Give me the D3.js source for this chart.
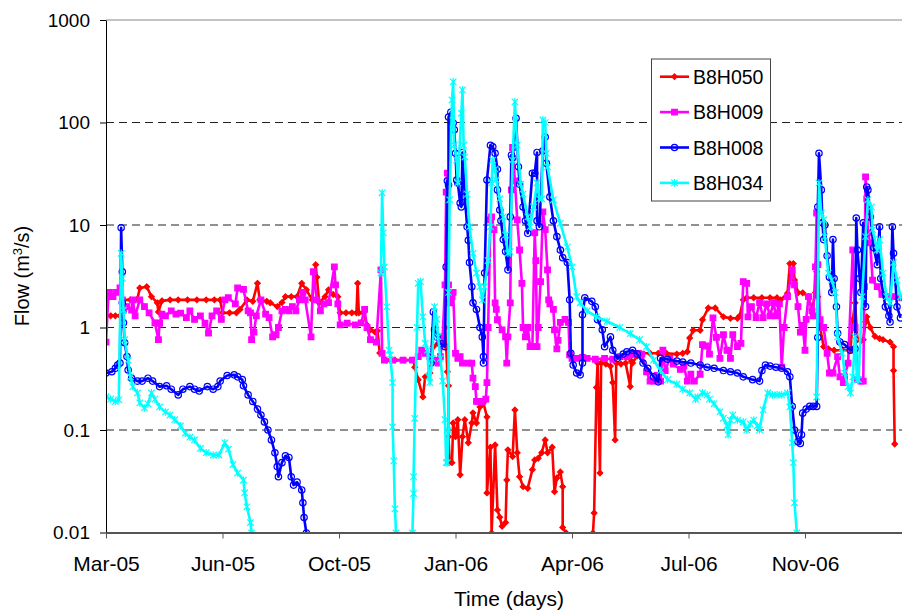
<!DOCTYPE html>
<html>
<head>
<meta charset="utf-8">
<script src="https://cdn.jsdelivr.net/npm/d3@7"></script>
<style>
body { margin: 0; background: #fff; }
text { font-family: Arial, "Liberation Sans", sans-serif; fill: #000; }
</style>
</head>
<body>
<script>
// first day of the record, day offsets below count from here
const startDate = "2005-03-16";

const seriesNames = ["B8H050", "B8H009", "B8H008", "B8H034"];

const yTicks = [0.01, 0.1, 1, 10, 100, 1000];
const yTickLabels = ["0.01", "0.1", "1", "10", "100", "1000"];
const xTickDays = [0, 100, 200, 300, 400, 500, 600];

// [day, flow m3/s]; null = no data
const b8h050 = [
  [0,1.3],[4,1.3],[8,1.3],[12,1.3],[15,1.86],[21,1.86],[27,1.9],[29,2.43],[35,2.5],[39,2.0],
  [44,1.74],[45,1.42],[48,1.82],[55,1.86],[62,1.86],[70,1.86],[78,1.86],[86,1.86],[93,1.86],[98,1.86],
  [100,1.39],[106,1.39],[112,1.39],[115,1.5],[121,1.86],[126,1.8],[130,2.7],[132,1.86],[138,1.8],[141,1.74],
  [147,1.6],[151,1.75],[154,2.0],[159,2.0],[164,2.0],[168,2.7],[172,2.33],[177,1.86],[180,4.1],[181,3.1],
  [183,1.74],[188,2.0],[191,2.33],[195,2.1],[199,2.0],[201,1.39],[206,1.39],[211,1.39],[215,1.39],[216,2.7],
  [217,1.39],[221,1.39],[224,1.06],[227,0.95],[231,0.9],[233,0.93],[235,0.565],[241,0.48],[248,0.48],[256,0.48],
  [264,0.48],[265,0.41],[268,0.31],[272,0.21],[274,0.33],[278,0.36],[281,0.65],[285,0.7],[289,0.76],[291,1.0],
  [292,0.65],[293,0.37],[294,0.27],[294,0.086],[295,0.048],[297,0.048],[298,0.117],[300,0.086],[302,0.126],[304,0.0365],
  [306,0.086],[308,0.126],[311,0.075],[314,0.117],[315,0.147],[318,0.117],[321,0.168],[324,0.184],[327,0.134],[327,0.0243],
  [330,0.068],[331,0.0099],[334,0.0715],[336,0.0166],[338,0.0141],[340,0.0115],[343,0.0125],[344,0.0325],[345,0.064],[349,0.055],
  [351,0.157],[353,0.06],[355,0.035],[358,0.028],[362,0.027],[366,0.041],[368,0.051],[371,0.053],[374,0.06],[377,0.08],
  [379,0.06],[383,0.068],[385,0.025],[387,0.034],[390,0.039],[392,0.028],[392,0.0112],[395,0.0099],[400,null],
  [418,0.0099],[419,0.0155],[421,0.26],[422,0.45],[424,0.038],[425,0.45],[429,0.44],[433,0.42],[435,0.29],[437,0.08],
  [438,0.45],[442,0.44],[446,0.45],[450,0.265],[451,0.47],[452,0.45],[456,0.53],[459,0.56],[467,0.56],[474,0.56],
  [481,0.56],[490,0.55],[495,0.56],[499,0.58],[501,0.79],[504,0.94],[510,0.94],[512,1.19],[517,1.55],[523,1.55],
  [530,1.27],[536,1.23],[542,1.23],[544,1.3],[547,1.86],[550,1.95],[556,1.95],[563,1.95],[570,1.95],[576,1.95],
  [579,1.86],[585,2.16],[587,4.2],[590,4.2],[591,2.9],[594,2.18],[598,2.18],[603,2.0],[606,1.48],[609,2.2],
  [610,3.5],[611,2.0],[613,1.0],[616,0.65],[620,0.62],[625,0.6],[632,0.6],[639,0.6],[641,1.19],[643,1.74],
  [645,0.76],[648,0.74],[650,0.76],[652,1.13],[653,1.27],[656,1.0],[660,0.82],[664,0.78],[667,0.76],[673,0.72],
  [676,0.65],[676,0.38],[677,0.073]
];

const b8h009 = [
  [0,0.72],[2,2.0],[3,2.2],[6,2.0],[9,2.2],[12,2.43],[14,1.86],[15,1.48],[18,1.6],[22,1.48],
  [23,1.86],[25,1.3],[29,1.86],[33,1.6],[37,1.39],[42,1.11],[45,0.76],[46,1.1],[48,1.35],[51,1.3],
  [56,1.45],[60,1.35],[64,1.38],[69,1.25],[72,1.45],[76,1.2],[81,1.3],[85,1.1],[88,0.88],[91,1.3],
  [95,1.45],[99,1.2],[102,1.86],[105,1.95],[111,1.7],[113,2.43],[118,2.35],[122,1.45],[124,1.39],[125,0.76],
  [127,0.9],[129,1.3],[133,1.86],[137,1.35],[140,1.25],[143,0.81],[146,0.85],[148,1.0],[151,1.45],[154,1.5],
  [157,1.45],[160,1.6],[163,1.45],[166,1.86],[169,2.2],[171,1.86],[176,0.81],[178,3.5],[181,1.86],[184,1.45],
  [187,1.7],[191,1.75],[196,3.9],[197,2.6],[199,1.7],[201,1.06],[207,1.1],[214,1.06],[219,1.11],[222,1.5],
  [224,1.0],[227,0.76],[232,0.72],[236,3.65],[237,0.56],[239,0.48],[246,0.48],[255,0.48],[263,0.48],[268,0.52],
  [271,0.6],[274,0.56],[278,0.52],[282,0.48],[285,0.45],[287,0.52],[289,0.81],[291,2.6],[292,20.9],[293,32],
  [294,2.6],[295,1.74],[297,2.0],[298,2.2],[300,0.56],[302,0.5],[304,0.52],[306,0.45],[311,0.45],[314,0.45],
  [315,0.32],[317,0.265],[318,0.19],[320,0.19],[323,0.19],[326,0.2],[327,0.29],[328,1.0],[330,11.2],[331,12],
  [333,9],[334,1.74],[335,1.5],[336,1.19],[340,0.95],[343,0.81],[344,0.45],[345,0.81],[347,1.74],[348,22],
  [349,57],[351,27],[353,11.2],[355,5.7],[357,2.7],[358,1.0],[360,0.81],[362,1.0],[364,0.65],[366,0.65],
  [368,8.4],[369,4.5],[370,0.65],[371,1.0],[373,2.8],[375,13.4],[377,9],[379,3.65],[380,1.86],[381,1.7],
  [384,1.5],[385,0.95],[387,0.62],[388,0.75],[390,1.12],[394,1.2],[397,1.12],[398,0.54],[400,0.5],[404,0.5],
  [409,0.51],[413,0.5],[420,0.49],[428,0.5],[435,0.49],[441,0.52],[447,0.52],[452,0.54],[456,0.56],[460,0.55],
  [464,0.37],[467,0.3],[470,0.3],[473,0.34],[476,0.3],[478,0.6],[480,0.38],[484,0.5],[487,0.44],[493,0.39],
  [496,0.42],[499,0.3],[502,0.35],[505,0.3],[510,0.35],[512,0.68],[515,0.66],[518,0.55],[521,1.24],[524,0.8],
  [527,0.5],[530,0.85],[533,0.6],[536,0.5],[538,0.85],[542,0.65],[545,0.7],[547,2.8],[550,2.7],[551,1.27],
  [554,1.6],[558,1.25],[561,1.75],[564,1.25],[567,1.7],[570,1.3],[573,1.75],[575,1.3],[578,1.7],[580,0.41],
  [582,1.0],[585,2.0],[589,3.65],[591,2.6],[594,1.6],[596,0.9],[598,1.05],[600,0.6],[601,1.2],[603,2.0],
  [606,1.45],[607,1.3],[609,3.9],[610,13.1],[611,4.1],[613,1.19],[616,1.0],[619,0.56],[621,0.36],[624,0.36],
  [628,0.52],[630,0.33],[633,0.29],[634,0.33],[637,0.45],[641,5.7],[643,1.0],[645,0.31],[648,0.3],[650,0.3],
  [651,2.5],[652,29.5],[653,18],[654,8.4],[656,6.7],[658,2.9],[662,2.5],[666,2.1],[670,2.0],[676,2.0],
  [683,1.95]
];

const b8h008 = [
  [0,0.36],[5,0.37],[8,0.4],[10,0.43],[12,0.45],[13,9.4],[14,3.5],[14,1.74],[15,1.11],[16,0.71],
  [18,0.52],[19,0.385],[22,0.32],[27,0.3],[31,0.3],[36,0.32],[40,0.3],[46,0.265],[52,0.27],[56,0.25],
  [62,0.22],[66,0.25],[72,0.265],[76,0.25],[80,0.24],[87,0.265],[92,0.25],[96,0.265],[98,0.3],[104,0.34],
  [110,0.345],[113,0.33],[117,0.31],[118,0.27],[122,0.22],[126,0.19],[130,0.16],[133,0.14],[136,0.12],[139,0.1],
  [142,0.08],[145,0.06],[147,0.044],[148,0.035],[151,0.048],[154,0.056],[157,0.054],[159,0.035],[161,0.029],[164,0.031],
  [168,0.026],[169,0.0195],[170,0.014],[172,0.0099],[175,null],
  [279,0.45],[281,1.42],[282,0.95],[284,0.81],[287,0.7],[291,0.65],[292,3.9],[293,27],[294,24.6],[294,113],
  [296,126],[298,99],[299,85],[300,50],[301,27.5],[302,25.7],[304,16.4],[305,15],[306,51],[308,18.8],
  [310,9.6],[311,7.1],[312,4.3],[314,2.5],[315,1.74],[318,1.5],[321,1.0],[323,0.81],[324,0.52],[324,0.45],
  [325,3.4],[327,27.5],[330,60],[332,58],[334,50],[336,35],[336,22],[338,14],[339,11],[341,7.2],
  [343,5.5],[345,3.65],[347,12],[348,48],[349,45],[352,110],[354,37],[355,25],[358,15],[360,11],
  [362,8.3],[366,32],[368,32],[370,51],[370,11],[372,9.6],[375,53],[377,72],[378,40],[381,18.8],
  [384,11],[387,7.7],[390,5.7],[392,4.8],[396,4.3],[398,1.86],[399,0.56],[401,0.43],[404,0.36],[407,0.345],
  [409,0.45],[409,1.33],[411,1.95],[417,1.8],[420,1.59],[422,1.19],[426,0.95],[428,0.65],[433,0.81],[435,0.6],
  [439,0.5],[444,0.55],[447,0.58],[452,0.6],[456,0.55],[461,0.45],[465,0.4],[470,0.33],[474,0.295],[476,0.5],
  [482,0.49],[490,0.47],[495,0.46],[502,0.45],[510,0.43],[516,0.41],[522,0.4],[530,0.38],[536,0.37],[542,0.36],
  [547,0.33],[555,0.31],[561,0.3],[563,0.38],[566,0.43],[570,0.42],[575,0.41],[580,0.4],[585,0.37],[587,0.33],
  [589,0.17],[591,0.1],[594,0.077],[596,0.074],[597,0.09],[598,0.146],[601,0.16],[604,0.17],[607,0.17],[610,0.17],
  [611,0.8],[611,15],[612,50],[614,22],[615,10.5],[616,7.2],[617,10],[619,5],[621,3.1],[623,2.2],
  [624,7.2],[625,3],[627,1.59],[628,0.88],[630,0.72],[634,0.68],[639,0.6],[643,0.62],[644,11.7],[645,5.7],
  [647,3],[648,2.2],[650,10.5],[652,1.6],[653,23.5],[654,22],[656,12],[659,6],[662,4.1],[664,9.6],
  [665,3],[669,1.59],[672,1.3],[673,1.13],[675,9.6],[676,5.3],[679,1.59],[682,1.24]
];

const b8h034 = [
  [0,0.21],[4,0.2],[8,0.19],[11,0.197],[13,5.3],[14,3.05],[15,1.48],[16,0.76],[19,0.48],[21,0.33],
  [23,0.265],[27,0.23],[29,0.184],[33,0.164],[36,0.18],[39,0.23],[42,0.2],[46,0.168],[51,0.15],[55,0.14],
  [59,0.126],[64,0.11],[68,0.093],[72,0.085],[76,0.08],[81,0.066],[86,0.06],[92,0.057],[97,0.057],[102,0.075],
  [105,0.065],[109,0.046],[113,0.038],[118,0.0325],[119,0.0243],[121,0.0178],[124,0.0125],[125,0.0099],[130,null],
  [236,3.4],[237,20.6],[238,8.4],[239,3.9],[241,1.59],[243,0.6],[244,0.54],[246,0.29],[246,0.107],[247,0.05],
  [248,0.017],[249,0.0099],[255,null],
  [263,0.0099],[264,0.024],[264,0.035],[265,0.13],[267,1.0],[268,2.7],[270,2.8],[272,1.27],[274,0.7],[276,0.6],
  [277,0.33],[278,0.29],[280,0.5],[282,1.59],[284,1.2],[285,0.81],[287,0.5],[289,0.3],[291,0.126],[292,0.048],
  [293,0.048],[294,0.1],[294,2.2],[295,17.6],[297,166],[298,249],[299,60],[301,43],[302,25.7],[305,123],
  [306,208],[307,60],[308,46],[310,20],[312,9.6],[315,5.3],[318,3.4],[321,2.5],[323,1.86],[325,2.5],
  [328,4.5],[330,9.6],[331,25.7],[332,43],[334,35],[335,27.5],[338,18],[341,12],[343,8],[345,5.3],
  [347,5.5],[349,43],[351,159],[353,60],[356,25],[358,20],[362,12],[364,9.6],[367,15],[370,25.7],
  [372,18],[374,18],[375,106],[377,100],[378,50],[379,37],[384,17.6],[390,10.4],[396,6.1],[400,3.9],
  [404,2.0],[407,1.74],[413,1.45],[421,1.27],[430,1.15],[441,1.0],[450,0.87],[458,0.76],[464,0.65],[470,0.48],
  [476,0.38],[482,0.31],[490,0.28],[495,0.25],[501,0.23],[506,0.2],[508,0.21],[512,0.23],[516,0.22],[518,0.2],
  [522,0.18],[527,0.15],[530,0.13],[533,0.11],[534,0.09],[536,0.125],[538,0.14],[542,0.125],[547,0.12],[550,0.1],
  [553,0.115],[556,0.125],[559,0.11],[561,0.1],[564,0.157],[568,0.23],[572,0.22],[576,0.22],[580,0.22],[585,0.23],
  [587,0.168],[589,0.075],[590,0.048],[591,0.0195],[593,0.0099],[600,null],
  [610,0.21],[612,25.7],[614,13.1],[616,11.2],[617,7.7],[620,3.4],[623,2.9],[626,2.2],[628,0.81],[632,0.56],
  [634,0.36],[637,0.265],[639,0.23],[641,0.33],[643,0.81],[645,0.31],[646,0.31],[649,2.0],[652,7.7],[654,17.6],
  [657,15],[658,9],[662,5.7],[664,7.2],[667,3.4],[670,2.0],[673,1.74],[676,4.3],[679,2.9],[682,2.0]
];

const allSeries = [b8h050, b8h009, b8h008, b8h034];

function main() {

    let svg = d3.select("body").append("svg")
        .attr("width", 902)
        .attr("height", 615);

    let start = d3.timeParse("%Y-%m-%d")(startDate);
    let day = d => d3.timeDay.offset(start, d);

    // 100 days = 116.5px, Mar-05 tick on the value axis
    let x = d3.scaleTime().domain([start, day(700)]).range([106, 921.5]);
    let y = d3.scaleLog().domain([0.01, 1000]).range([532.5, 20]);

    let left = 106, right = 902, top = 20, bottom = 532.5;

    // marker shapes per series
    let styles = [
        { color: "#ff0000", marker: "M0,-2.8L2.8,0L0,2.8L-2.8,0Z", fill: true },
        { color: "#ff00ff", marker: "M-2.8,-2.8H2.8V2.8H-2.8Z", fill: true },
        { color: "#0000ff", marker: "M-3.2,0A3.2,3.2 0 1,0 3.2,0A3.2,3.2 0 1,0 -3.2,0Z", fill: false },
        { color: "#00ffff", marker: "M-3.2,-3.2L3.2,3.2M-3.2,3.2L3.2,-3.2M0,-3.8V3.8", fill: false }
    ];

    svg.append("defs").append("clipPath").attr("id", "plot")
        .append("rect")
        .attr("x", left).attr("y", top - 1)
        .attr("width", right - left).attr("height", bottom - top + 1);

    // gridlines
    svg.append("line")
        .attr("x1", left).attr("x2", right)
        .attr("y1", y(1000)).attr("y2", y(1000))
        .attr("stroke", "#888").attr("stroke-width", 1);

    svg.selectAll(".grid")
        .data([100, 10, 1, 0.1])
        .enter().append("line")
        .attr("class", "grid")
        .attr("x1", left).attr("x2", right)
        .attr("y1", d => y(d)).attr("y2", d => y(d))
        .attr("stroke", "#222")
        .attr("stroke-width", 1)
        .attr("stroke-dasharray", "8,5");

    // series
    let plot = svg.append("g").attr("clip-path", "url(#plot)");
    let line = d3.line()
        .defined(d => d[1] != null)
        .x(d => x(day(d[0])))
        .y(d => y(d[1]));

    allSeries.forEach(function (data, i) {
        let st = styles[i];
        plot.append("path")
            .datum(data)
            .attr("d", line)
            .attr("fill", "none")
            .attr("stroke", st.color)
            .attr("stroke-width", 2.6)
            .attr("stroke-linejoin", "round");

        plot.selectAll(".m" + i)
            .data(data.filter(d => d[1] != null))
            .enter().append("path")
            .attr("class", "m" + i)
            .attr("transform", d => `translate(${x(day(d[0]))},${y(d[1])})`)
            .attr("d", st.marker)
            .attr("fill", st.fill ? st.color : "none")
            .attr("stroke", st.color)
            .attr("stroke-width", 1.2);
    });

    // axes
    let yaxis = d3.axisLeft(y)
        .tickValues(yTicks)
        .tickFormat((d, i) => yTickLabels[i])
        .tickSize(6)
        .tickSizeOuter(0)
        .tickPadding(10);

    let ya = svg.append("g")
        .attr("transform", `translate(${left},0)`)
        .call(yaxis);
    ya.select(".domain").attr("stroke", "#000").attr("stroke-width", 1);
    ya.selectAll(".tick line").attr("stroke", "#000");
    ya.selectAll("text").style("font-size", "19px").attr("font-family", null);

    let xaxis = d3.axisBottom(x)
        .tickValues(xTickDays.map(day))
        .tickFormat(d3.timeFormat("%b-%y"))
        .tickSize(6)
        .tickSizeOuter(0)
        .tickPadding(18);

    let xa = svg.append("g")
        .attr("transform", `translate(0,${bottom})`)
        .call(xaxis);
    xa.select(".domain").attr("stroke", "#555").attr("stroke-width", 2);
    xa.selectAll(".tick line").attr("stroke", "#555");
    xa.selectAll("text").style("font-size", "21px").attr("font-family", null);

    // axis titles
    svg.append("text")
        .attr("x", 509)
        .attr("y", 606)
        .attr("text-anchor", "middle")
        .style("font-size", "21px")
        .text("Time (days)");

    let yt = svg.append("text")
        .attr("transform", "translate(29,276) rotate(-90)")
        .attr("text-anchor", "middle")
        .style("font-size", "20px");
    yt.append("tspan").text("Flow (m");
    yt.append("tspan").attr("dy", -7).style("font-size", "13px").text("3");
    yt.append("tspan").attr("dy", 7).text("/s)");

    // legend
    let lg = svg.append("g");
    lg.append("rect")
        .attr("x", 651.5).attr("y", 59)
        .attr("width", 119).attr("height", 142)
        .attr("fill", "#fff")
        .attr("stroke", "#444")
        .attr("stroke-width", 1);

    seriesNames.forEach(function (name, i) {
        let st = styles[i];
        let ly = 76.7 + i * 35.4;
        lg.append("line")
            .attr("x1", 660).attr("x2", 689)
            .attr("y1", ly).attr("y2", ly)
            .attr("stroke", st.color)
            .attr("stroke-width", 2.6);
        lg.append("path")
            .attr("transform", `translate(674.5,${ly})`)
            .attr("d", st.marker)
            .attr("fill", st.fill ? st.color : "none")
            .attr("stroke", st.color)
            .attr("stroke-width", 1.2);
        lg.append("text")
            .attr("x", 693)
            .attr("y", ly + 7)
            .style("font-size", "19.5px")
            .text(name);
    });
}

main()
</script>
</body>
</html>
